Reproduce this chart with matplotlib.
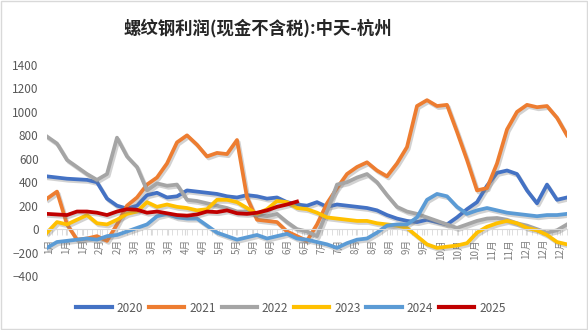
import numpy as np
import matplotlib
matplotlib.use("Agg")
import matplotlib.pyplot as plt
import matplotlib.patheffects as pe
from matplotlib.patches import Rectangle

plt.rcParams['font.family'] = ['Noto Sans CJK SC', 'DejaVu Sans']

# weekly values
y2020 = [450, 440, 430, 425, 420, 400, 260, 200, 175, 200, 290, 310, 270, 280, 330, 320, 310, 300,
         280, 270, 290, 280, 260, 270, 230, 210, 200, 230, 190, 210, 200, 190, 180, 160, 120, 90,
         70, 60, 80, 60, 40, 100, 170, 230, 370, 480, 500, 470, 330, 220, 380, 250, 270]
y2021 = [260, 320, 40, -90, -80, -60, -100, 40, 200, 270, 380, 440, 560, 740, 800, 720, 620, 650,
         640, 760, 270, 80, 70, 60, -20, -60, -100, 40, 220, 350, 470, 530, 570, 500, 450, 560,
         700, 1050, 1100, 1050, 1060, 830, 590, 330, 350, 560, 850, 1000, 1060, 1040, 1050, 950, 800]
y2022 = [790, 730, 590, 530, 470, 420, 470, 780, 620, 530, 330, 390, 370, 380, 250, 240, 220, 200,
         180, 150, 150, 120, 110, 130, 60, 0, -20, -60, 150, 380, 400, 440, 470, 400, 290, 190,
         150, 130, 100, 70, 40, 10, 40, 70, 90, 95, 80, 50, 30, 0, -30, -10, 40]
y2023 = [-30, 60, 40, 80, 120, 50, 40, 80, 130, 150, 230, 190, 210, 190, 180, 160, 170, 250,
         250, 230, 180, 130, 170, 240, 230, 180, 170, 140, 100, 90, 80, 70, 70, 50, 40, 30,
         10, -60, -130, -160, -150, -140, -120, -30, 20, 50, 70, 50, 10, -10, -50, -110, -130]
y2024 = [-160, -110, -100, -90, -80, -90, -60, -50, -20, 10, 40, 110, 130, 100, 90, 90, 30, -30,
         -60, -90, -70, -50, -80, -60, -40, -80, -90, -110, -130, -160, -120, -90, -80, -30, 30, 40,
         40, 100, 250, 300, 280, 190, 130, 160, 180, 160, 140, 130, 120, 110, 120, 120, 130]
y2025 = [130, 125, 120, 150, 150, 140, 120, 150, 170, 165, 140, 150, 135, 120, 115, 125, 150, 145,
         160, 135, 130, 140, 160, 190, 210, 235]

years = ['2020', '2021', '2022', '2023', '2024', '2025']
colors = ['#4472C4', '#ED7D31', '#A5A5A5', '#FFC000', '#5B9BD5', '#C00000']
series = [y2020, y2021, y2022, y2023, y2024, y2025]

month_labels = (['1月'] * 3 + ['2月'] * 2 + ['3月'] * 3 + ['4月'] * 2 + ['5月'] * 3 + ['6月'] * 3
                + ['7月'] * 2 + ['8月'] * 3 + ['9月'] * 2 + ['10月'] * 3 + ['11月'] * 2 + ['12月'] * 3)

fig = plt.figure(figsize=(5.88, 3.30), dpi=100)
fig.patches.append(Rectangle((0.001, 0.002), 0.997, 0.995, transform=fig.transFigure,
                             fill=False, edgecolor='#D9D9D9', linewidth=1))
ax = fig.add_axes([47/588, 54/330, 520/588, 211/330])

shadow = [pe.SimpleLineShadow(offset=(1.2, -1.5), shadow_color='#7F7F7F', alpha=0.35), pe.Normal()]
for yr, c, vals in zip(years, colors, series):
    ax.plot(np.arange(len(vals)), vals, color=c, lw=2.7, label=yr,
            solid_joinstyle='round', path_effects=shadow)

ax.set_xlim(0, 52)
ax.set_ylim(-400, 1400)
ax.set_yticks(range(-400, 1401, 200))
ax.tick_params(axis='y', length=0, labelsize=8.5, labelcolor='#595959', pad=6)

ax.spines['bottom'].set_position(('data', 0))
ax.spines['bottom'].set_color('#D9D9D9')
for s in ['left', 'right', 'top']:
    ax.spines[s].set_visible(False)
ax.set_xticks(np.linspace(0.2, 51.3, len(month_labels)))
ax.set_xticklabels(month_labels, rotation=90, va='top', ha='center')
ax.set_xticks(np.arange(0, 52.1, 0.5), minor=True)
ax.tick_params(axis='x', which='major', length=4, color='#D9D9D9', labelsize=7,
               labelcolor='#7F7F7F', pad=3)
ax.tick_params(axis='x', which='minor', length=4, color='#D9D9D9')

fig.text(258/588, 1 - 28/330, '螺纹钢利润(现金不含税):中天-杭州', ha='center', va='center',
         fontsize=12.5, fontweight='bold', color='#262626')

leg = fig.legend(loc='center', bbox_to_anchor=(291/588, 1 - 308/330), ncol=6, frameon=False,
                 fontsize=8.5, handlelength=3.0, handletextpad=0.4, columnspacing=0.5)
for h in leg.get_lines():
    h.set_linewidth(3)
    h.set_path_effects([])
for t in leg.get_texts():
    t.set_color('#595959')

fig.savefig('out.png', dpi=100)
